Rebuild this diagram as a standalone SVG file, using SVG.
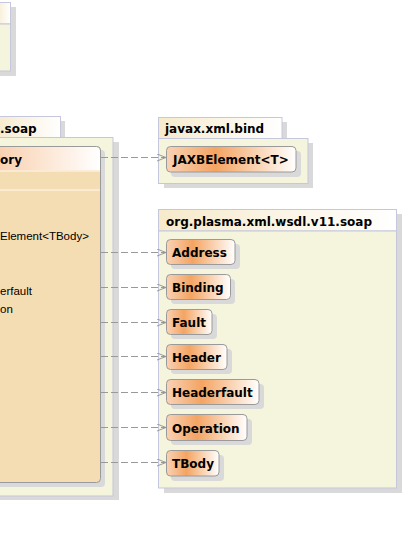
<svg xmlns="http://www.w3.org/2000/svg" width="404" height="539" viewBox="0 0 404 539">
<defs>
<linearGradient id="clsGrad" x1="0" y1="0" x2="1" y2="0">
<stop offset="0" stop-color="#F9D2B6"/>
<stop offset="0.38" stop-color="#F4A462"/>
<stop offset="1" stop-color="#FFFFFF"/>
</linearGradient>
<linearGradient id="hdrGrad" gradientUnits="userSpaceOnUse" x1="-100" y1="0" x2="100" y2="0">
<stop offset="0" stop-color="#F4A462"/>
<stop offset="1" stop-color="#FFFFFF"/>
</linearGradient>
<linearGradient id="tabGrad" x1="0" y1="0" x2="1" y2="0">
<stop offset="0" stop-color="#F6EACB"/>
<stop offset="1" stop-color="#FFFFFF"/>
</linearGradient>
<marker id="open" markerUnits="userSpaceOnUse" markerWidth="10" markerHeight="8" refX="9" refY="3.5" orient="auto">
<path d="M0,0 L9,3.5 L0,7" fill="none" stroke="#999999" stroke-width="1"/>
</marker>
</defs>
<style>
.shadow{fill:#D9D9D9}
.pkg{fill:#F5F4DC;stroke:#C5C8DC;stroke-width:1}
.tab{fill:url(#tabGrad);stroke:#C5C8DC;stroke-width:1}
.cls{fill:url(#clsGrad);stroke:#9A9A9A;stroke-width:1}
.bold{font-family:"DejaVu Sans",sans-serif;font-weight:bold;font-size:12px;fill:#000}
.mem{font-family:"Liberation Sans",Arial,sans-serif;font-size:11.5px;fill:#000}
.dep{fill:none;stroke:#999999;stroke-width:1;stroke-dasharray:7,3;marker-end:url(#open)}
</style>

<g id="pkg-top">
<rect class="shadow" x="-5" y="7" width="21" height="69"/>
<rect class="tab" x="-5" y="2.5" width="15.5" height="21.5"/>
<rect class="pkg" x="-5" y="24" width="15.5" height="47"/>
</g>

<g id="pkg-soap">
<rect class="shadow" x="-5" y="121" width="70" height="20"/>
<rect class="shadow" x="-5" y="142" width="124" height="358"/>
<rect class="tab" x="-5" y="116.5" width="65.5" height="21"/>
<rect class="pkg" x="-5" y="137.5" width="118" height="358.5"/>
<text class="bold" x="0" y="133">.soap</text>
</g>

<g id="cls-factory">
<rect class="shadow" x="-10" y="150" width="115" height="337" rx="4"/>
<rect x="-10" y="146.5" width="110.5" height="336" rx="4" fill="#F5DDB3" stroke="#9A9A9A"/>
<path d="M-10,150.5 A4,4 0 0 1 -6,146.5 L96.5,146.5 A4,4 0 0 1 100.5,150.5 L100.5,170.5 L-10,170.5 Z" fill="url(#hdrGrad)"/>
<path d="M96.5,146.5 A4,4 0 0 1 100.5,150.5" fill="none" stroke="#9A9A9A"/>
<line x1="-10" y1="146.5" x2="96.5" y2="146.5" stroke="#9A9A9A"/>
<line x1="100.5" y1="150" x2="100.5" y2="171" stroke="#9A9A9A"/>
<line x1="-10" y1="171" x2="100" y2="171" stroke="#FBEEDC" stroke-width="1.5"/>
<line x1="-10" y1="190" x2="100" y2="190" stroke="#FBEEDC" stroke-width="1.5"/>
<text class="bold" x="0" y="164">ory</text>
<text class="mem" x="0" y="240">Element&lt;TBody&gt;</text>
<text class="mem" x="0" y="295">erfault</text>
<text class="mem" x="0" y="313">on</text>
</g>

<g id="pkg-bind">
<rect class="shadow" x="164" y="122" width="123" height="20"/>
<rect class="shadow" x="164" y="143" width="149" height="45"/>
<rect class="tab" x="158.5" y="117.5" width="123.5" height="21"/>
<rect class="pkg" x="158.5" y="138.5" width="149.5" height="45"/>
<text class="bold" x="165" y="133">javax.xml.bind</text>
</g>

<g id="cls-jaxb">
<rect class="shadow" x="171" y="151" width="130" height="26" rx="4"/>
<rect class="cls" x="166.5" y="146.5" width="129.5" height="25.5" rx="4"/>
<text class="bold" x="173" y="164">JAXBElement&lt;T&gt;</text>
</g>

<g id="pkg-wsdl">
<rect class="shadow" x="164" y="214" width="238" height="279"/>
<rect class="tab" x="158.5" y="209.5" width="238" height="21.5"/>
<rect class="pkg" x="158.5" y="231" width="238" height="257"/>
<text class="bold" x="166" y="226">org.plasma.xml.wsdl.v11.soap</text>
</g>

<g id="cls-address">
<rect class="shadow" x="171" y="244" width="69" height="25" rx="4"/>
<rect class="cls" x="166.5" y="239.5" width="68.5" height="25" rx="4"/>
<text class="bold" x="172" y="257">Address</text>
</g>
<g id="cls-binding">
<rect class="shadow" x="171" y="279" width="64" height="25" rx="4"/>
<rect class="cls" x="166.5" y="274.5" width="64" height="25" rx="4"/>
<text class="bold" x="172" y="292">Binding</text>
</g>
<g id="cls-fault">
<rect class="shadow" x="171" y="314" width="46" height="25" rx="4"/>
<rect class="cls" x="166.5" y="309.5" width="45.5" height="25" rx="4"/>
<text class="bold" x="172" y="327">Fault</text>
</g>
<g id="cls-header">
<rect class="shadow" x="171" y="349" width="61" height="25" rx="4"/>
<rect class="cls" x="166.5" y="344.5" width="60.5" height="25" rx="4"/>
<text class="bold" x="172" y="362">Header</text>
</g>
<g id="cls-headerfault">
<rect class="shadow" x="171" y="384" width="93" height="25" rx="4"/>
<rect class="cls" x="166.5" y="379.5" width="92.5" height="25" rx="4"/>
<text class="bold" x="172" y="397">Headerfault</text>
</g>
<g id="cls-operation">
<rect class="shadow" x="171" y="419" width="81" height="26" rx="4"/>
<rect class="cls" x="166.5" y="414.5" width="80.5" height="26" rx="4"/>
<text class="bold" x="172" y="433">Operation</text>
</g>
<g id="cls-tbody">
<rect class="shadow" x="171" y="455" width="53" height="26" rx="4"/>
<rect class="cls" x="166.5" y="450.5" width="52.5" height="25.5" rx="4"/>
<text class="bold" x="172" y="468">TBody</text>
</g>

<g id="connectors">
<line class="dep" x1="101" y1="157.5" x2="166" y2="157.5"/>
<line class="dep" x1="101" y1="252.5" x2="166" y2="252.5"/>
<line class="dep" x1="101" y1="287.5" x2="166" y2="287.5"/>
<line class="dep" x1="101" y1="322.5" x2="166" y2="322.5"/>
<line class="dep" x1="101" y1="356.5" x2="166" y2="356.5"/>
<line class="dep" x1="101" y1="392.5" x2="166" y2="392.5"/>
<line class="dep" x1="101" y1="427.5" x2="166" y2="427.5"/>
<line class="dep" x1="101" y1="462.5" x2="166" y2="462.5"/>
</g>
</svg>
